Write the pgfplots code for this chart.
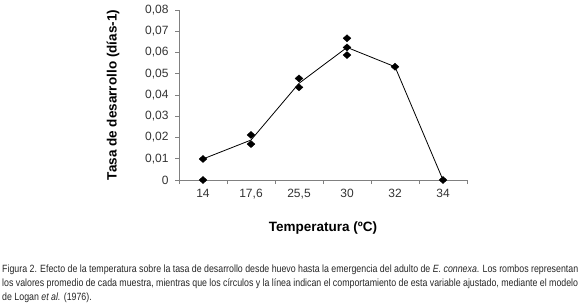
\documentclass[border=0pt]{standalone}
\usepackage{pgfplots}
\pgfplotsset{compat=1.18}
\usepackage{fontspec}
\setmainfont{Liberation Sans}
\newfontfamily\narrowfont[FakeStretch=0.84]{Liberation Sans}
\definecolor{axgray}{RGB}{128,128,128}
\begin{document}
\begin{tikzpicture}
\path[use as bounding box] (0,0) rectangle (580pt,306pt);
\begin{axis}[
  at={(179pt,126pt)}, anchor=south west,
  scale only axis, width=288pt, height=170pt,
  xmin=0, xmax=6, ymin=0, ymax=0.08,
  scaled y ticks=false,
  clip=false,
  axis lines*=left,
  axis line style={axgray, line width=0.8pt},
  tick align=outside,
  major tick length=4pt, minor tick length=4pt,
  every tick/.style={axgray, line width=0.8pt},
  xtick={0.5,1.5,2.5,3.5,4.5,5.5},
  xticklabels={14,{17,6},{25,5},30,32,34},
  major x tick style={draw=none},
  minor xtick={0,1,2,3,4,5,6},
  ytick={0,0.01,0.02,0.03,0.04,0.05,0.06,0.07,0.08},
  yticklabels={0,{0,01},{0,02},{0,03},{0,04},{0,05},{0,06},{0,07},{0,08}},
  ticklabel style={font=\fontsize{12}{14}\selectfont, text=black!80},
  yticklabel style={xshift=-3pt},
  xticklabel style={yshift=-2pt},
  xlabel={Temperatura (ºC)},
  ylabel={Tasa de desarrollo (días-1)},
  xlabel style={at={(axis description cs:0.5,-0.282)}, anchor=center, font=\bfseries\fontsize{13.5}{16}\selectfont},
  ylabel style={at={(axis description cs:-0.229,0.5)}, anchor=center, font=\bfseries\fontsize{13.5}{16}\selectfont},
]
\addplot[black, line width=0.8pt, mark=none] coordinates {
  (0.5,0.0099) (1.5,0.0188) (2.5,0.0455) (3.5,0.0624) (4.5,0.0533) (5.5,0)
};
\addplot[only marks, mark=diamond*, mark size=3.5pt, mark options={fill=black, draw=black, xscale=1.5}] coordinates {
  (0.5,0) (0.5,0.0099) (1.5,0.0212) (1.5,0.0169) (2.5,0.0478) (2.5,0.0436)
  (3.5,0.0667) (3.5,0.0624) (3.5,0.0588) (4.5,0.0533) (5.5,0)
};
\end{axis}
\node[anchor=north west, inner sep=0pt, text width=576pt, align=justify,
      font=\narrowfont\fontsize{10.5}{14}\selectfont, text=black!85] at (2pt,41pt)
{Figura 2. Efecto de la temperatura sobre la tasa de desarrollo desde huevo hasta la emergencia del adulto de \textit{E. connexa}. Los rombos representan los valores promedio de cada muestra, mientras que los círculos y la línea indican el comportamiento de esta variable ajustado, mediante el modelo de Logan \textit{et al.} (1976).};
\end{tikzpicture}
\end{document}
